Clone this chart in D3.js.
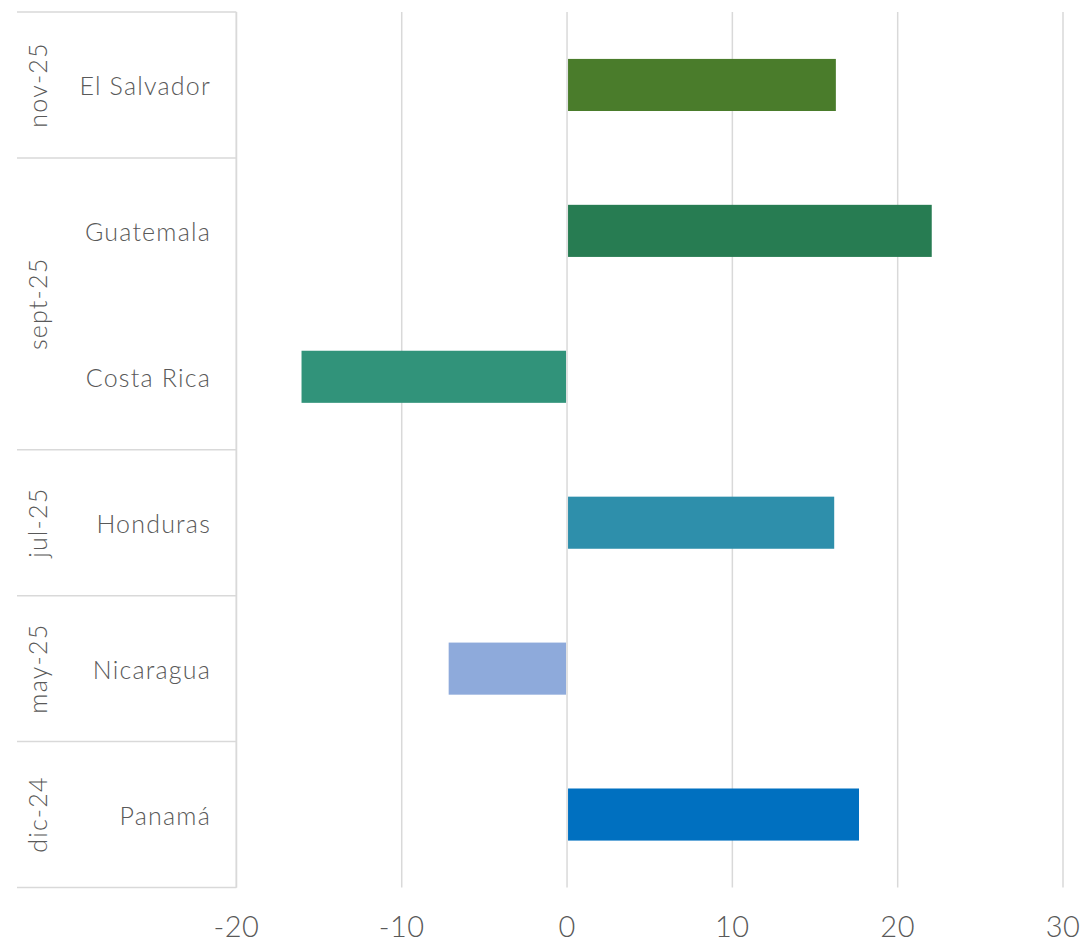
<!DOCTYPE html>
<html><head><meta charset="utf-8">
<script src="https://cdn.jsdelivr.net/npm/d3@7"></script>
<style>
html,body{margin:0;padding:0;background:#fff;}
text{font-family:Lato,"Open Sans",sans-serif;font-weight:300;fill:#595959;}
</style></head>
<body>
<svg id="chart" width="1084" height="945"></svg>
<script>
const countries = ["El Salvador","Guatemala","Costa Rica","Honduras","Nicaragua","Panamá"];
const groups = ["nov-25","sept-25","sept-25","jul-25","may-25","dic-24"];
const values = [16.2, 22.0, -16.0, 16.1, -7.1, 17.6];
const colors = ["#4a7c2b","#277c52","#31937a","#2e8fab","#8eaadb","#0070c0"];
const xTicks = [-20,-10,0,10,20,30];

const svg = d3.select("#chart");
const plotLeft = 236.4, plotRight = 1063, plotTop = 12, plotBottom = 887.5, outerLeft = 17;

const x = d3.scaleLinear().domain([-20,30]).range([plotLeft,plotRight]);
const y = d3.scaleBand().domain(countries).range([plotTop,plotBottom]).paddingInner(0).paddingOuter(0);
const barH = y.step()*0.357;

// gridlines
svg.append("g").selectAll("line").data(xTicks).join("line")
  .attr("x1",d=>x(d)).attr("x2",d=>x(d)).attr("y1",plotTop).attr("y2",plotBottom)
  .attr("stroke","#d9d9d9").attr("stroke-width",1.5);

// bars
svg.append("g").selectAll("rect").data(countries).join("rect")
  .attr("x",(d,i)=>Math.min(x(0),x(values[i]))+ (values[i]>=0?1:-1))
  .attr("width",(d,i)=>Math.abs(x(values[i])-x(0)))
  .attr("y",d=>y(d)+(y.bandwidth()-barH)/2)
  .attr("height",barH)
  .attr("fill",(d,i)=>colors[i]);

// left axis line
svg.append("line").attr("x1",plotLeft).attr("x2",plotLeft).attr("y1",plotTop).attr("y2",plotBottom)
  .attr("stroke","#d9d9d9").attr("stroke-width",1.5);

// group spans
const spans = [];
groups.forEach((g,i)=>{
  if(spans.length && spans[spans.length-1].name===g) spans[spans.length-1].end=i;
  else spans.push({name:g,start:i,end:i});
});
const bounds = [plotTop].concat(spans.map(s=>y(countries[s.end])+y.step()));
svg.append("g").selectAll("line").data(bounds).join("line")
  .attr("x1",outerLeft).attr("x2",plotLeft).attr("y1",d=>d).attr("y2",d=>d)
  .attr("stroke","#d9d9d9").attr("stroke-width",1.5);

// category labels
svg.append("g").selectAll("text").data(countries).join("text")
  .attr("x",211).attr("y",d=>y(d)+y.bandwidth()/2)
  .attr("text-anchor","end").attr("dominant-baseline","central")
  .attr("font-size",25).attr("letter-spacing","1.2px").text(d=>d);

// group labels
svg.append("g").selectAll("text").data(spans).join("text")
  .attr("transform",s=>{
    const cy=(y(countries[s.start])+y(countries[s.end])+y.step())/2;
    return `translate(37,${cy}) rotate(-90)`;})
  .attr("text-anchor","middle").attr("dominant-baseline","central")
  .attr("font-size",25).attr("letter-spacing","1.2px").text(s=>s.name);

// x tick labels
svg.append("g").selectAll("text").data(xTicks).join("text")
  .attr("x",d=>x(d)).attr("y",937)
  .attr("text-anchor","middle")
  .attr("font-size",29).attr("letter-spacing","0.5px").text(d=>d);
</script>
</body></html>
